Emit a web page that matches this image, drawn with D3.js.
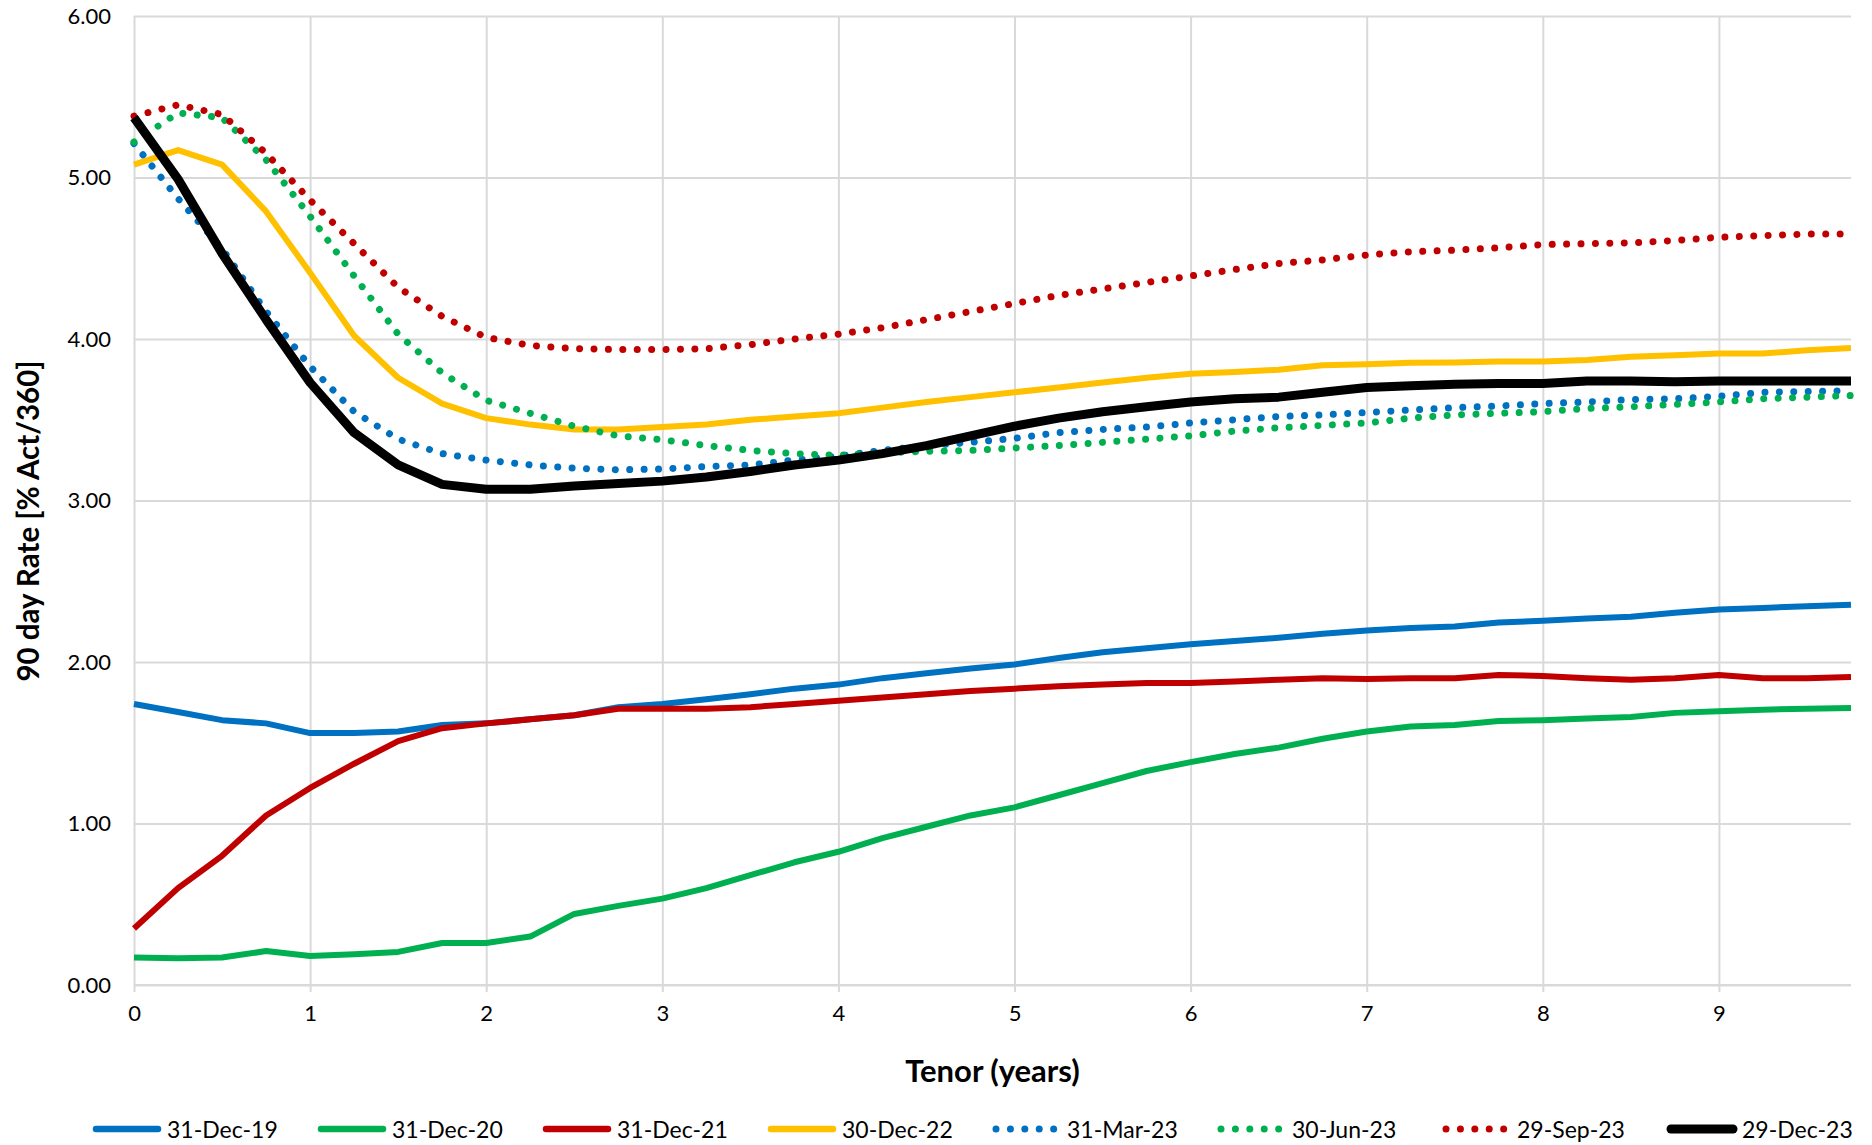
<!DOCTYPE html>
<html>
<head>
<meta charset="utf-8">
<script src="https://cdn.jsdelivr.net/npm/d3@7"></script>
<style>
  html, body { margin: 0; padding: 0; background: #fff; }
  svg { display: block; }
  text { font-family: Lato, "Open Sans", sans-serif; fill: #000; }
</style>
</head>
<body>
<svg id="chart" width="1872" height="1145"></svg>
<script>
// ---- data ----
const tenors = [0,0.25,0.5,0.75,1,1.25,1.5,1.75,2,2.25,2.5,2.75,3,3.25,3.5,3.75,4,4.25,4.5,4.75,5,5.25,5.5,5.75,6,6.25,6.5,6.75,7,7.25,7.5,7.75,8,8.25,8.5,8.75,9,9.25,9.5,9.75];

const dec19 = [1.74,1.69,1.64,1.62,1.56,1.56,1.57,1.61,1.62,1.645,1.67,1.72,1.74,1.77,1.80,1.835,1.86,1.90,1.93,1.96,1.985,2.025,2.06,2.085,2.11,2.13,2.15,2.175,2.195,2.21,2.22,2.245,2.255,2.27,2.28,2.305,2.325,2.335,2.345,2.355];
const dec20 = [0.17,0.165,0.17,0.21,0.18,0.19,0.205,0.26,0.26,0.30,0.44,0.49,0.535,0.60,0.68,0.76,0.825,0.91,0.98,1.05,1.10,1.175,1.25,1.325,1.38,1.43,1.47,1.525,1.57,1.60,1.61,1.635,1.64,1.65,1.66,1.685,1.695,1.705,1.71,1.715];
const dec21 = [0.35,0.60,0.80,1.05,1.22,1.37,1.51,1.59,1.62,1.645,1.67,1.71,1.71,1.71,1.72,1.74,1.76,1.78,1.80,1.82,1.835,1.85,1.86,1.87,1.87,1.88,1.89,1.90,1.895,1.90,1.90,1.92,1.913,1.90,1.89,1.90,1.92,1.90,1.90,1.907];
const dec22 = [5.08,5.17,5.08,4.79,4.41,4.02,3.76,3.60,3.51,3.47,3.44,3.44,3.455,3.47,3.50,3.52,3.54,3.575,3.61,3.64,3.67,3.70,3.73,3.76,3.785,3.795,3.81,3.837,3.843,3.853,3.855,3.86,3.86,3.87,3.89,3.90,3.91,3.91,3.93,3.945];
const mar23 = [5.21,4.87,4.56,4.17,3.83,3.55,3.38,3.29,3.25,3.22,3.20,3.19,3.195,3.21,3.22,3.25,3.275,3.31,3.34,3.36,3.385,3.42,3.44,3.455,3.48,3.50,3.52,3.53,3.545,3.56,3.575,3.585,3.60,3.61,3.625,3.63,3.645,3.67,3.675,3.68];
const jun23 = [5.22,5.40,5.37,5.11,4.76,4.39,4.03,3.79,3.62,3.54,3.46,3.40,3.376,3.34,3.31,3.29,3.28,3.295,3.305,3.31,3.325,3.34,3.36,3.38,3.40,3.43,3.45,3.465,3.48,3.51,3.53,3.54,3.55,3.57,3.58,3.595,3.61,3.63,3.64,3.65];
const sep23 = [5.38,5.45,5.39,5.15,4.86,4.59,4.32,4.14,4.01,3.96,3.94,3.935,3.935,3.94,3.965,4.00,4.03,4.07,4.12,4.17,4.22,4.27,4.31,4.35,4.39,4.43,4.467,4.49,4.52,4.54,4.55,4.565,4.585,4.59,4.595,4.61,4.63,4.64,4.65,4.65];
const dec23 = [5.37,4.99,4.53,4.12,3.73,3.42,3.22,3.10,3.07,3.07,3.09,3.105,3.12,3.145,3.18,3.22,3.25,3.29,3.34,3.40,3.46,3.51,3.55,3.58,3.61,3.63,3.64,3.67,3.70,3.71,3.72,3.725,3.725,3.74,3.74,3.735,3.74,3.74,3.74,3.74];

const seriesNames = ["31-Dec-19","31-Dec-20","31-Dec-21","30-Dec-22","31-Mar-23","30-Jun-23","29-Sep-23","29-Dec-23"];
const seriesValues = [dec19, dec20, dec21, dec22, mar23, jun23, sep23, dec23];
const seriesColors = ["#0070C0","#00B050","#C00000","#FFC000","#0070C0","#00B050","#C00000","#000000"];
const seriesDotted = [false,false,false,false,true,true,true,false];
const seriesWidth = [6,6,6,6,7,7,7,9];

const yTicks = [0,1,2,3,4,5,6];
const xTicks = [0,1,2,3,4,5,6,7,8,9];
const xTitle = "Tenor (years)";
const yTitle = "90 day Rate [% Act/360]";

// ---- layout ----
const svg = d3.select("#chart");
const padL = 134, padR = 1851, padT = 16, padB = 985;
const x = d3.scaleLinear().domain([0, 9.75]).range([padL, padR]);
const y = d3.scaleLinear().domain([0, 6]).range([padB, padT]);
const gridColor = "#D9D9D9";
const dotDash = "0.01 14.4";

// horizontal gridlines + y labels
const yAxis = d3.axisLeft(y).tickValues(yTicks).tickFormat(d3.format(".2f"))
  .tickSize(-(padR - padL)).tickPadding(23);
const gy = svg.append("g").attr("transform", `translate(${padL},0)`).call(yAxis);
gy.select(".domain").remove();
gy.selectAll(".tick line").attr("stroke", gridColor).attr("stroke-width", 2);
gy.selectAll(".tick text").style("font-size", "22px").attr("fill", "#000")
  .style("font-family", "Lato, sans-serif");

// vertical gridlines + x labels
const xAxis = d3.axisBottom(x).tickValues(xTicks).tickFormat(d3.format("d"))
  .tickSize(-(padB - padT)).tickPadding(20);
const gx = svg.append("g").attr("transform", `translate(0,${padB})`).call(xAxis);
gx.select(".domain").remove();
gx.selectAll(".tick line").attr("stroke", gridColor).attr("stroke-width", 2)
  .attr("y2", -(padB - padT)).attr("y1", 7);
gx.selectAll(".tick text").style("font-size", "22px").attr("fill", "#000")
  .style("font-family", "Lato, sans-serif");

// bottom axis line
svg.append("line").attr("x1", padL).attr("x2", padR).attr("y1", padB).attr("y2", padB)
  .attr("stroke", gridColor).attr("stroke-width", 2);

// series
const line = d3.line().x((d, i) => x(tenors[i])).y(d => y(d));
seriesValues.forEach((vals, k) => {
  const p = svg.append("path").datum(vals)
    .attr("d", line)
    .attr("fill", "none")
    .attr("stroke", seriesColors[k])
    .attr("stroke-width", seriesWidth[k])
    .attr("stroke-linejoin", "round");
  if (seriesDotted[k]) {
    p.attr("stroke-dasharray", dotDash).attr("stroke-linecap", "round");
  } else {
    p.attr("stroke-linecap", "butt");
  }
});

// axis titles
svg.append("text").attr("x", (padL + padR) / 2).attr("y", 1070)
  .attr("text-anchor", "middle").attr("dominant-baseline", "central")
  .style("font-size", "31px").style("font-weight", "bold").text(xTitle);
svg.append("text").attr("transform", "translate(27,521) rotate(-90)")
  .attr("text-anchor", "middle").attr("dominant-baseline", "central")
  .style("font-size", "29.5px").style("font-weight", "bold").text(yTitle);

// legend
const legY = 1129, legStart = 93, legStep = 225, legLine = 68;
seriesNames.forEach((name, k) => {
  const lx = legStart + k * legStep;
  const l = svg.append("line").attr("x1", lx + 3).attr("x2", lx + legLine - 3)
    .attr("y1", legY).attr("y2", legY)
    .attr("stroke", seriesColors[k])
    .attr("stroke-width", seriesDotted[k] ? 7 : (k === 7 ? 9 : 6.5))
    .attr("stroke-linecap", "round");
  if (seriesDotted[k]) l.attr("stroke-dasharray", dotDash);
  svg.append("text").attr("x", lx + legLine + 6).attr("y", legY)
    .attr("dominant-baseline", "central")
    .style("font-size", "23px").text(name);
});
</script>
</body>
</html>
